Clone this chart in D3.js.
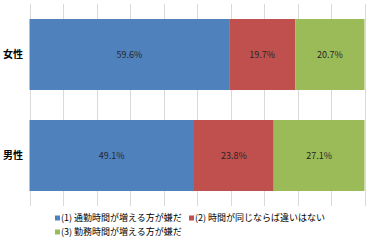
<!DOCTYPE html>
<meta charset="utf-8">
<style>
body { margin: 0; background: #fff; font-family: "Noto Sans CJK JP", sans-serif; }
.grid line { stroke: #d9d9d9; stroke-width: 1px; }
.lbl { font-size: 9px; fill: #262626; }
.cat { font-size: 10px; font-weight: bold; fill: #000; }
.leg { font-size: 9px; fill: #000; }
</style>
<body>
<script src="https://d3js.org/d3.v7.min.js"></script>
<script>
var categories = ["女性", "男性"];
var seriesNames = ["(1) 通勤時間が増える方が嫌だ", "(2) 時間が同じならば違いはない", "(3) 勤務時間が増える方が嫌だ"];
var series1 = [59.6, 49.1];
var series2 = [19.7, 23.8];
var series3 = [20.7, 27.1];
var ticks = [0, 10, 20, 30, 40, 50, 60, 70, 80, 90, 100];
var colors = ["#4f81bd", "#c0504d", "#9bbb59"];

var width = 370, height = 241;
var svg = d3.select("body").append("svg")
    .attr("width", width)
    .attr("height", height);

var x = d3.scaleLinear().domain([0, 100]).range([29.5, 364.5]);
var y = d3.scaleBand().domain(categories).range([4, 206]).paddingInner(0.297).paddingOuter(0.1485);

// gridlines
svg.append("g").attr("class", "grid")
  .selectAll("line")
  .data(ticks)
  .enter().append("line")
    .attr("x1", function(d) { return Math.round(x(d)) + 0.5; })
    .attr("x2", function(d) { return Math.round(x(d)) + 0.5; })
    .attr("y1", 4)
    .attr("y2", 206);

// stack the series
var table = categories.map(function(c, i) {
  return { cat: c, s0: series1[i], s1: series2[i], s2: series3[i] };
});
var stack = d3.stack().keys(["s0", "s1", "s2"]);
var layers = stack(table);

var g = svg.selectAll(".layer")
    .data(layers)
  .enter().append("g")
    .attr("class", "layer")
    .attr("fill", function(d, i) { return colors[i]; });

g.selectAll("rect")
    .data(function(d) { return d; })
  .enter().append("rect")
    .attr("x", function(d) { return x(d[0]); })
    .attr("width", function(d) { return x(d[1]) - x(d[0]); })
    .attr("y", function(d) { return y(d.data.cat); })
    .attr("height", y.bandwidth());

g.selectAll("text")
    .data(function(d) { return d; })
  .enter().append("text")
    .attr("class", "lbl")
    .attr("x", function(d) { return (x(d[0]) + x(d[1])) / 2; })
    .attr("y", function(d) { return y(d.data.cat) + y.bandwidth() / 2; })
    .attr("text-anchor", "middle")
    .attr("dy", "0.35em")
    .text(function(d) { return (d[1] - d[0]).toFixed(1) + "%"; });

// category labels
svg.selectAll(".cat")
    .data(categories)
  .enter().append("text")
    .attr("class", "cat")
    .attr("x", 23)
    .attr("y", function(d) { return y(d) + y.bandwidth() / 2; })
    .attr("dy", "0.35em")
    .attr("text-anchor", "end")
    .text(function(d) { return d; });

// legend
var legPos = [[55, 218], [189, 218], [55, 232]];
var leg = svg.selectAll(".legitem")
    .data(seriesNames)
  .enter().append("g")
    .attr("class", "legitem")
    .attr("transform", function(d, i) { return "translate(" + legPos[i][0] + "," + legPos[i][1] + ")"; });

leg.append("rect")
    .attr("x", 0)
    .attr("y", -2.5)
    .attr("width", 5)
    .attr("height", 5)
    .attr("fill", function(d, i) { return colors[i]; });

leg.append("text")
    .attr("class", "leg")
    .attr("x", 6)
    .attr("dy", "0.35em")
    .text(function(d) { return d; });
</script>
</body>
